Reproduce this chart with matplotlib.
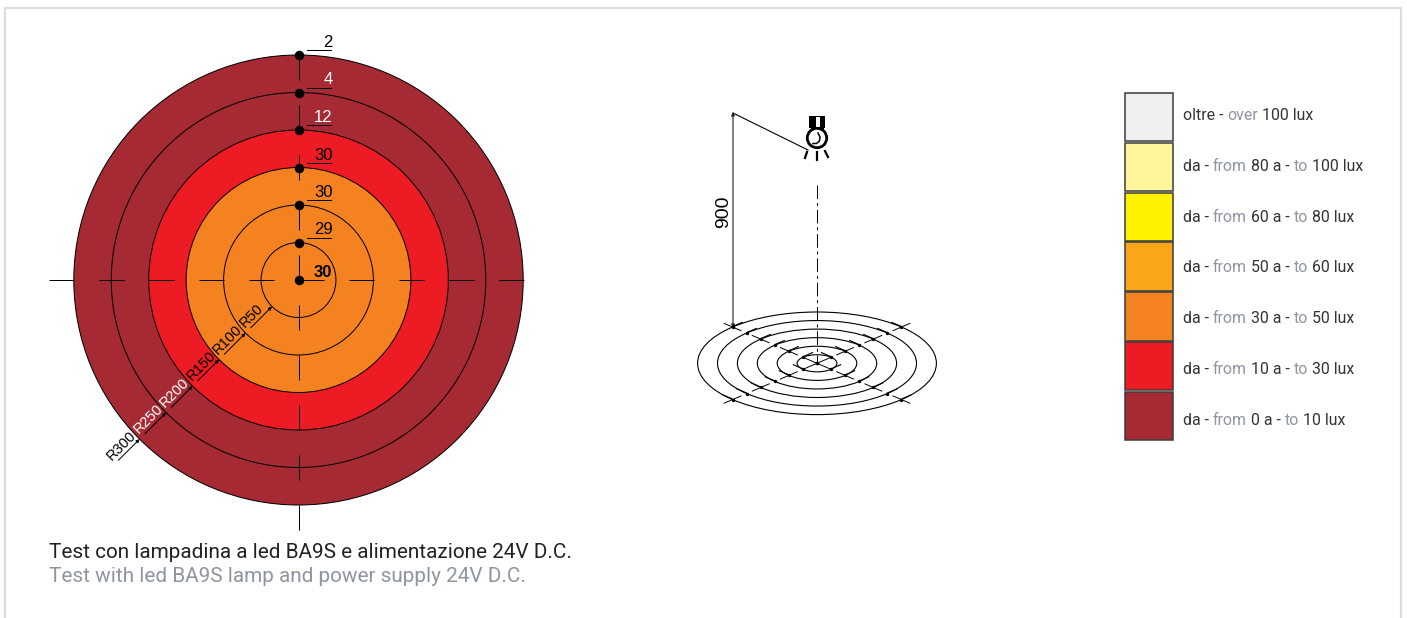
import matplotlib
matplotlib.use('Agg')
import matplotlib.pyplot as plt
import numpy as np
from matplotlib.patches import Circle, Rectangle

W, H = 1407, 618

# values
radii = [300, 250, 200, 150, 100, 50]
ring_colors = ['#a52a33', '#a52a33', '#ed1c24', '#f58220', '#f58220', '#f58220']
r_labels = ['R300', 'R250', 'R200', 'R150', 'R100', 'R50']
r_label_colors = ['black', 'white', 'white', 'black', 'black', 'black']
point_r = [300, 250, 200, 150, 100, 50, 0]
point_lux = ['2', '4', '12', '30', '30', '29', '30']
lux_colors = ['black', 'white', 'white', 'black', 'black', 'black', 'black']
lamp_height = '900'

legend_colors = ['#efefef', '#fff59b', '#fff200', '#faa61a', '#f58220', '#ed1c24', '#a52a33']
# each row: dark, grey, dark, grey, dark
legend_rows = [
    ['oltre - ', 'over', ' 100 lux'],
    ['da - ', 'from', ' 80 a - ', 'to', ' 100 lux'],
    ['da - ', 'from', ' 60 a - ', 'to', ' 80 lux'],
    ['da - ', 'from', ' 50 a - ', 'to', ' 60 lux'],
    ['da - ', 'from', ' 30 a - ', 'to', ' 50 lux'],
    ['da - ', 'from', ' 10 a - ', 'to', ' 30 lux'],
    ['da - ', 'from', ' 0 a - ', 'to', ' 10 lux'],
]
title_it = 'Test con lampadina a led BA9S e alimentazione 24V D.C.'
title_en = 'Test with led BA9S lamp and power supply 24V D.C.'

GREY = '#8e95a0'
DARK = '#333333'
TEXT_FONT = 'Roboto'
DIM_FONT = 'Liberation Sans'
LEGEND_SIZE = 11.4
LW = 0.72  # 1 px


def px_axes(fig, x0, y0, x1, y1, cx, cy, kx, ky):
    # axes placed by pixel box, data in mm around (cx, cy)
    ax = fig.add_axes([x0 / W, 1 - y1 / H, (x1 - x0) / W, (y1 - y0) / H])
    ax.set_xlim((x0 - cx) / kx, (x1 - cx) / kx)
    ax.set_ylim((cy - y1) / ky, (cy - y0) / ky)
    ax.axis('off')
    ax.patch.set_alpha(0)
    return ax


fig = plt.figure(figsize=(W / 100, H / 100), dpi=100, facecolor='white')

# page layer, pixel coordinates
bg = fig.add_axes([0, 0, 1, 1])
bg.set_xlim(0, W)
bg.set_ylim(H, 0)
bg.axis('off')
bg.plot([5, 5, 1401, 1401], [H, 8, 8, H], color='#d5dfdb', lw=1.6)

bg.text(49, 553, title_it, color='#222222', fontsize=14.95, family=TEXT_FONT, va='center')
bg.text(49, 576.5, title_en, color=GREY, fontsize=14.95, family=TEXT_FONT, va='center')

# legend
fig.canvas.draw()
renderer = fig.canvas.get_renderer()


def run_width(s):
    # trailing spaces are not measured, so bracket with dots
    a = bg.text(0, 0, '.' + s + '.', fontsize=LEGEND_SIZE, family=TEXT_FONT)
    b = bg.text(0, 0, '..', fontsize=LEGEND_SIZE, family=TEXT_FONT)
    w = a.get_window_extent(renderer).width - b.get_window_extent(renderer).width
    a.remove()
    b.remove()
    return w


for i, (col, row) in enumerate(zip(legend_colors, legend_rows)):
    top = 93 + i * 49.83
    bg.add_patch(Rectangle((1124.5, top), 48.5, 48.3, facecolor=col,
                           edgecolor='#3c3c3c', lw=1.1))
    x = 1183
    for j, part in enumerate(row):
        lead = run_width(' ') if part.startswith(' ') else 0
        bg.text(x + lead, 115.5 + i * 50.8, part.strip(), fontsize=LEGEND_SIZE, family=TEXT_FONT,
                color=GREY if j % 2 else DARK, va='center', ha='left')
        x += run_width(part)

# target in plan view, about 0.75 px per mm
ax = px_axes(fig, 20, 10, 580, 540, 298.5, 280, 0.749, 0.75)
for r, col in zip(radii, ring_colors):
    ax.add_patch(Circle((0, 0), r, facecolor=col, edgecolor='black', lw=LW, zorder=2))
ax.plot([-333, 301], [0, 0], color='black', lw=LW, dashes=(25, 25), zorder=3)
ax.plot([0, 0], [300, -334], color='black', lw=LW, dashes=(25, 25), zorder=3)
ax.scatter([0] * len(point_r), point_r, s=47, color='black', zorder=5, linewidths=0)

for r, lux, col in zip(point_r, point_lux, lux_colors):
    if r == 0:
        ax.annotate(lux, (0, r), xytext=(34, 3), textcoords='offset pixels', ha='right',
                    va='baseline', fontsize=12, family=DIM_FONT, fontweight='bold',
                    color=col, zorder=6)
        continue
    ax.plot([10.7, 44], [r + 6.5, r + 6.5], color='black', lw=LW, zorder=4)
    ax.annotate(lux, (0, r), xytext=(34, 8), textcoords='offset pixels', ha='right',
                va='baseline', fontsize=12, family=DIM_FONT, color=col, zorder=6)

# radius dimensions along the lower left diagonal
d = np.sqrt(0.5)
for r, lab, col in zip(radii, r_labels, r_label_colors):
    tip = (-r * d, -r * d)
    tail = (-(r + 40) * d, -(r + 40) * d)
    ax.annotate('', xy=tip, xytext=tail, zorder=4,
                arrowprops=dict(arrowstyle='-|>', color='black', lw=LW, mutation_scale=5,
                                shrinkA=0, shrinkB=0))
    mid = (-(r + 20) * d, -(r + 20) * d)
    ax.annotate(lab, mid, xytext=(-20, -8.2), textcoords='offset pixels', rotation=45,
                rotation_mode='anchor', ha='left', va='center', fontsize=10.5,
                family=DIM_FONT, color=col, zorder=6)

# same target seen in perspective
ax2 = px_axes(fig, 680, 300, 960, 425, 817, 363.3, 0.398, 0.171)
for r in radii:
    ax2.add_patch(Circle((0, 0), r, facecolor='none', edgecolor='black', lw=0.8, zorder=2))
for sx, sy in [(-1, 1), (1, 1), (-1, -1), (1, -1)]:
    # leaders point up and away on the lower side, up and inward on the upper side
    tx = sx if sy < 0 else -sx
    for r in radii:
        px, py = sx * r * d, sy * r * d
        ax2.scatter([px], [py], s=6, color='black', linewidths=0, zorder=3)
        ax2.plot([px, px + tx * 34 * d], [py + 3, py + 3 + 34 * d], color='black', lw=0.8, zorder=3)
    for r0, r1 in [(270, 330), (170, 230), (70, 130), (0, 50)]:
        ax2.plot([sx * r0 * d, sx * r1 * d], [sy * r0 * d, sy * r1 * d], color='black', lw=0.7, zorder=3)
ax2.scatter([0], [0], s=7, color='black', linewidths=0, zorder=3)

# height dimension and lamp symbol
bg.annotate('', xy=(733, 328), xytext=(733, 112),
            arrowprops=dict(arrowstyle='<|-|>', color='#222222', lw=0.8, mutation_scale=5,
                            shrinkA=0, shrinkB=0))
bg.text(723.5, 212, lamp_height, rotation=90, ha='center', va='center', fontsize=14,
        family=DIM_FONT, color='black')
bg.plot([733, 808], [113, 150], color='black', lw=0.8)
bg.plot([817, 817], [185, 363], color='black', lw=0.7, dashes=(14, 4, 3, 4))

bg.add_patch(Rectangle((809, 116), 16, 12, facecolor='black', edgecolor='none'))
bg.add_patch(Rectangle((816, 117), 4, 10, facecolor='white', edgecolor='none'))
bg.add_patch(Rectangle((810.5, 127), 13, 5, facecolor='black', edgecolor='none'))
bg.add_patch(Circle((817, 138), 9.7, facecolor='white', edgecolor='black', lw=2.0))
bg.plot([818, 820, 819.5, 816.5, 813], [133, 137, 141, 143.5, 143.5], color='black', lw=1.1)
for x0, y0, x1, y1 in [(807, 152, 805, 158), (817, 152, 817, 160), (825, 151, 828, 157)]:
    bg.plot([x0, x1], [y0, y1], color='black', lw=1.6)

fig.savefig('out.png', dpi=100)
